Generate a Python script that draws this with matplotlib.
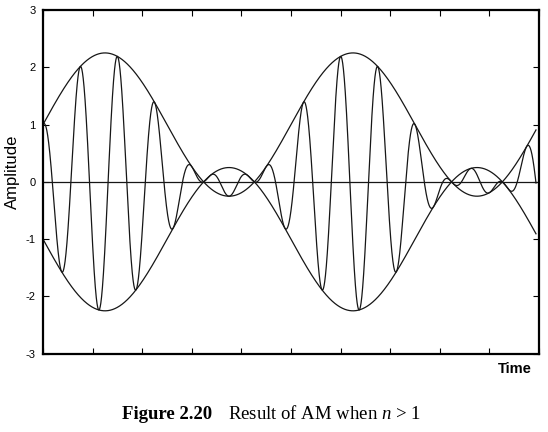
import numpy as np
import matplotlib
matplotlib.use('Agg')
import matplotlib.pyplot as plt

# values
n_index = 1.25          # modulation index (envelope swings 1 +/- 1.25)
mod_period = 5.0        # envelope period, in time-axis units
carrier_period = 0.75   # carrier period, in time-axis units
t_end = 9.94
y_ticks = [-3, -2, -1, 0, 1, 2, 3]
x_ticks = list(range(0, 11))

t = np.linspace(0, t_end, 4000)
envelope = 1 + n_index * np.sin(2 * np.pi * t / mod_period)
signal = envelope * np.cos(2 * np.pi * t / carrier_period)

plt.rcParams['font.family'] = ['Liberation Sans', 'DejaVu Sans']
plt.rcParams['mathtext.fontset'] = 'custom'
plt.rcParams['mathtext.rm'] = 'Liberation Serif'
plt.rcParams['mathtext.it'] = 'Liberation Serif:italic'

fig = plt.figure(figsize=(5.48, 4.32), dpi=100)
ax = fig.add_axes([0.0785, 0.181, 0.905, 0.796])

ax.plot(t, signal, color='#161616', lw=0.9)
ax.plot(t, envelope, color='#161616', lw=0.9)
ax.plot(t, -envelope, color='#161616', lw=0.9)
ax.axhline(0, color='#161616', lw=0.9)

ax.set_xlim(0, 10)
ax.set_ylim(-3, 3)
ax.set_xticks(x_ticks)
ax.set_xticklabels([])
ax.set_yticks(y_ticks)
ax.set_yticklabels([str(v) for v in y_ticks], fontsize=8)
ax.tick_params(direction='in', length=4, width=0.8, top=True, right=True, pad=5.5)
for s in ax.spines.values():
    s.set_linewidth(1.6)

ax.set_ylabel('Amplitude', fontsize=12)
ax.yaxis.set_label_coords(-0.047, 0.53)
fig.text(0.971, 0.146, 'Time', fontsize=10.5, fontweight='bold', ha='right', va='center')

cap_y = 1 - 419 / 432
fig.text(122 / 548, cap_y, 'Figure 2.20', fontsize=13.5, fontweight='bold',
         family='Liberation Serif', ha='left', va='baseline')
fig.text(228 / 548, cap_y, 'Result of AM when $n$ > 1', fontsize=13.5,
         family='Liberation Serif', ha='left', va='baseline')

fig.savefig('out.png', dpi=100)
